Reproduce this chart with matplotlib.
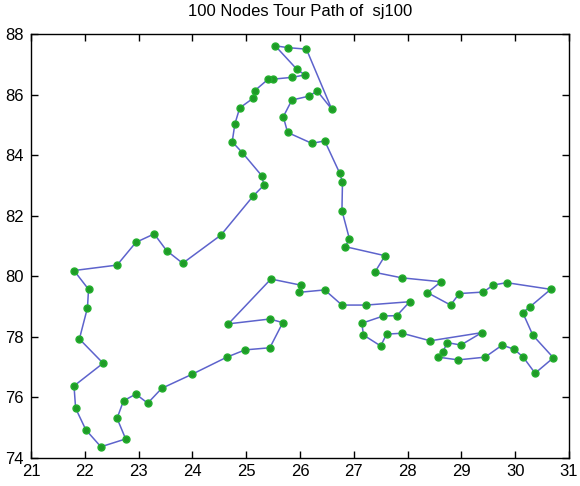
import numpy as np
import matplotlib
matplotlib.use('Agg')
import matplotlib.pyplot as plt

# tour order of the nodes (closed path back to the first one)
tour_x = [25.54, 25.94, 26.09, 25.86, 25.50, 25.41, 25.16, 25.13, 24.88, 24.79,
          24.74, 24.93, 25.29, 25.33, 25.13, 24.53, 23.82, 23.52, 23.29, 22.95,
          22.60, 21.80, 22.07, 22.05, 21.90, 22.34, 21.80, 21.83, 22.02, 22.30,
          22.76, 22.60, 22.72, 22.95, 23.17, 23.43, 24.00, 24.64, 24.98, 25.44,
          25.68, 25.44, 24.67, 25.46, 26.01, 25.98, 26.46, 26.78, 27.23, 28.04,
          27.80, 27.55, 27.15, 27.18, 27.50, 27.61, 27.90, 28.42, 29.38, 28.99,
          28.74, 28.65, 28.57, 28.94, 29.44, 29.76, 29.98, 30.15, 30.37, 30.71,
          30.33, 30.14, 30.28, 30.66, 29.84, 29.59, 29.41, 28.96, 28.80, 28.37,
          28.62, 27.89, 27.39, 27.58, 26.84, 26.92, 26.78, 26.79, 26.74, 26.46,
          26.22, 25.77, 25.69, 25.85, 26.17, 26.32, 26.59, 26.12, 25.78]
tour_y = [87.61, 86.84, 86.65, 86.57, 86.51, 86.51, 86.13, 85.88, 85.56, 85.03,
          84.44, 84.08, 83.32, 83.01, 82.65, 81.36, 80.43, 80.85, 81.40, 81.12,
          80.37, 80.19, 79.57, 78.96, 77.93, 77.13, 76.38, 75.64, 74.93, 74.37,
          74.63, 75.31, 75.89, 76.11, 75.81, 76.30, 76.77, 77.33, 77.57, 77.64,
          78.47, 78.59, 78.43, 79.91, 79.71, 79.47, 79.55, 79.05, 79.05, 79.16,
          78.70, 78.69, 78.45, 78.06, 77.70, 78.09, 78.12, 77.87, 78.14, 77.73,
          77.81, 77.49, 77.33, 77.24, 77.33, 77.73, 77.59, 77.33, 76.80, 77.31,
          78.05, 78.80, 79.00, 79.57, 79.79, 79.71, 79.48, 79.43, 79.05, 79.46,
          79.82, 79.95, 80.13, 80.68, 80.98, 81.23, 82.17, 83.10, 83.40, 84.47,
          84.39, 84.75, 85.27, 85.82, 85.95, 86.12, 85.52, 87.50, 87.55]

x_ticks = list(range(21, 32))
y_ticks = list(range(74, 89, 2))

plt.rcParams['font.family'] = ['Liberation Sans', 'DejaVu Sans']

fig = plt.figure(figsize=(5.8, 4.86), dpi=100)
ax = fig.add_axes([0.0534, 0.0576, 0.9276, 0.8724])

# close the loop
px = tour_x + tour_x[:1]
py = tour_y + tour_y[:1]
ax.plot(px, py, '-', color='#5d63cc', lw=1.1, zorder=2)
ax.plot(tour_x, tour_y, 'o', color='#1f9a28', markeredgecolor='#22b02c',
        markersize=5, zorder=3)

ax.set_xlim(21, 31)
ax.set_ylim(74, 88)
ax.set_xticks(x_ticks)
ax.set_yticks(y_ticks)
ax.tick_params(direction='in', top=True, right=True, length=5, width=1,
               labelsize=12)
ax.tick_params(axis='x', pad=4)
ax.tick_params(axis='y', pad=5)
for s in ax.spines.values():
    s.set_linewidth(1)
ax.set_title('100 Nodes Tour Path of  sj100', fontsize=12, pad=13)

fig.savefig('out.png', dpi=100)
